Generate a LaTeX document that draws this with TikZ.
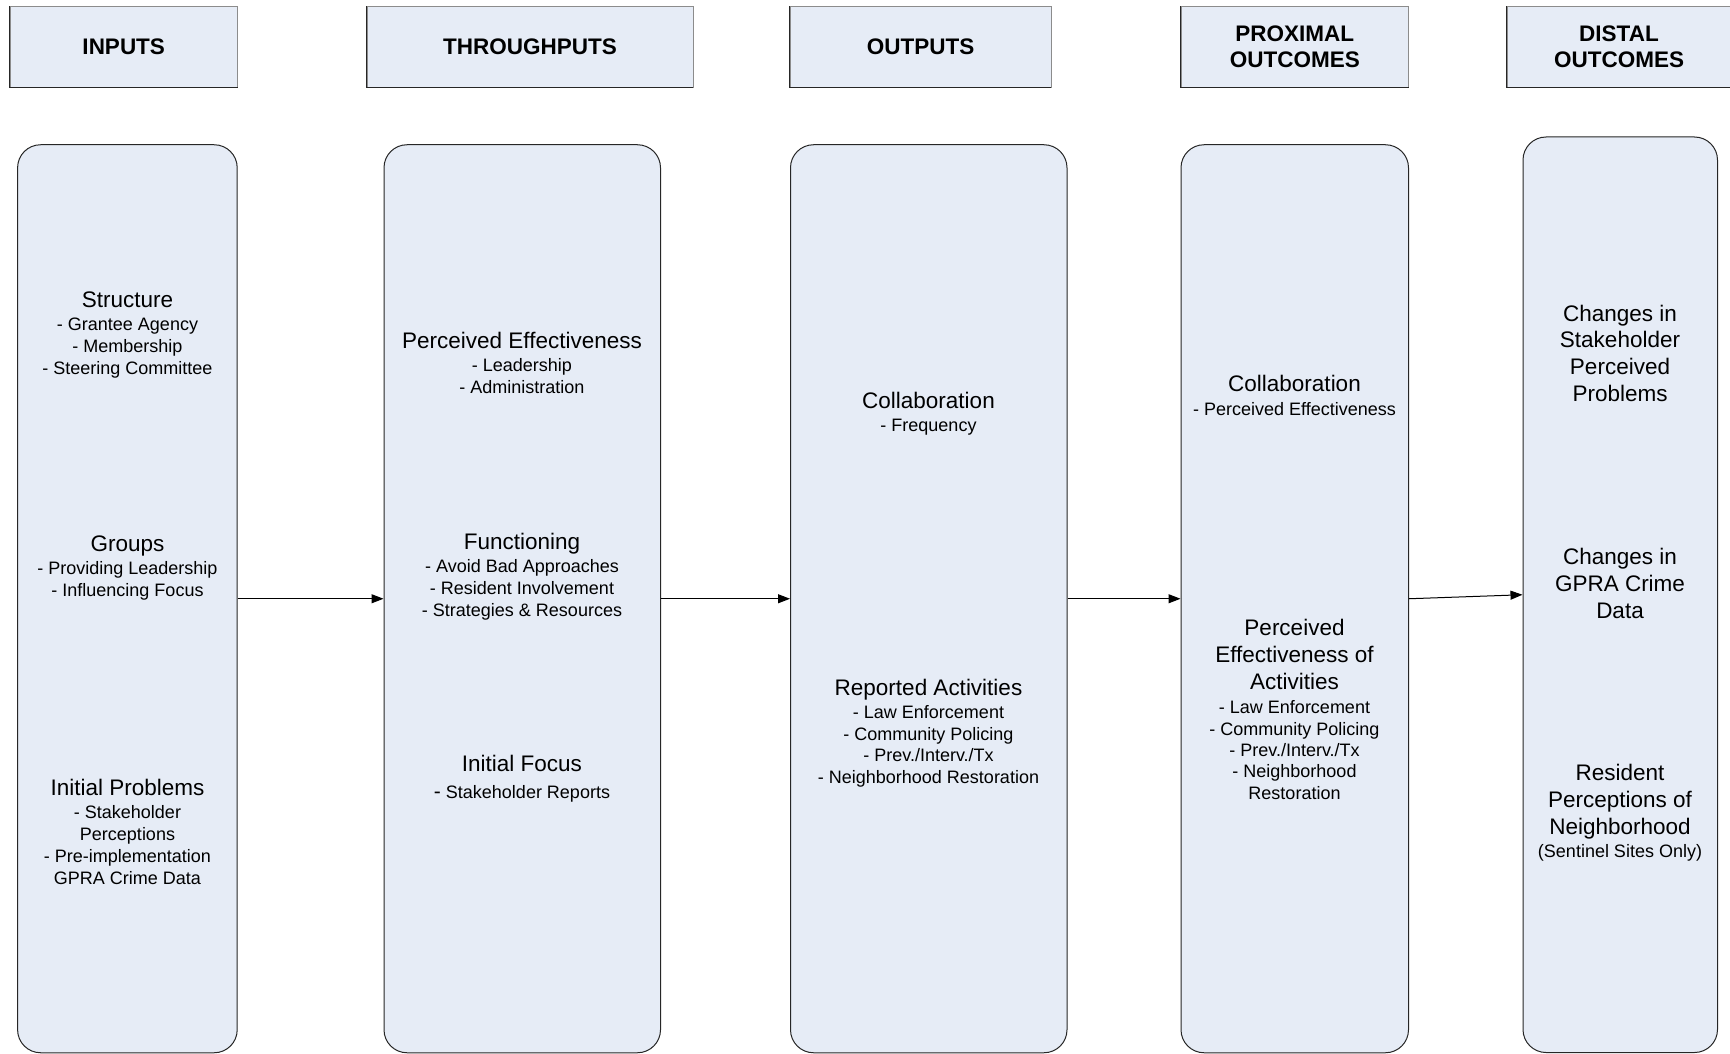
\documentclass[tikz,border=0pt]{standalone}
\usepackage{fontspec}
\setmainfont{Liberation Sans}
\usetikzlibrary{arrows.meta}
\definecolor{boxfill}{HTML}{E6ECF6}
\newcommand{\ttl}[1]{{\fontsize{22.5}{22}\selectfont\rule{0pt}{18pt}#1}}
\newcommand{\bigline}[1]{{\fontsize{22.5}{21.4}\selectfont #1}}
\begin{document}
\begin{tikzpicture}[x=1pt,y=-1pt,
  hdr/.style={draw=black!45, line width=0.9pt, fill=boxfill, minimum height=80.6pt, inner sep=0pt, align=center, font=\bfseries\fontsize{22.5}{26.5}\selectfont},
  hdredge/.style={draw=black!85, line width=1.3pt},
  colbox/.style={draw=black!85, line width=1pt, fill=boxfill, rounded corners=23pt, inner sep=0pt},
  txt/.style={inner sep=0pt, anchor=north, align=center, font=\fontsize{18}{22}\selectfont},
  txtb/.style={inner sep=0pt, anchor=north, align=center, font=\fontsize{18}{21.7}\selectfont},
  txtc/.style={inner sep=0pt, anchor=north, align=center, font=\fontsize{18}{21.4}\selectfont},
  bigtxt/.style={inner sep=0pt, anchor=north, align=center, font=\fontsize{22.5}{26.8}\selectfont},
  flow/.style={draw=black, line width=1pt, -{Triangle[length=12pt,width=9pt]}}
]
\useasboundingbox (0,0) rectangle (1730,1054);

% header boxes
\node[hdr, minimum width=227.5pt] (h1) at (123.75,46.9) {INPUTS};
\node[hdr, minimum width=326pt]   (h2) at (530,46.9) {THROUGHPUTS};
\node[hdr, minimum width=261pt]   (h3) at (920.5,46.9) {OUTPUTS};
\node[hdr, minimum width=227.5pt] (h4) at (1294.75,46.9) {PROXIMAL\\OUTCOMES};
\node[hdr, minimum width=224pt]   (h5) at (1619,46.9) {DISTAL\\OUTCOMES};
\foreach \h in {h1,h2,h3,h4,h5}{
  \draw[hdredge] (\h.north west) -- (\h.south west) -- (\h.south east);
}

% column boxes
\node[colbox, minimum width=219.6pt, minimum height=908pt] (c1) at (127.4,598.75) {};
\node[colbox, minimum width=276.5pt, minimum height=908pt] (c2) at (522.25,598.75) {};
\node[colbox, minimum width=276.5pt, minimum height=908pt] (c3) at (928.75,598.75) {};
\node[colbox, minimum width=227.5pt, minimum height=908pt] (c4) at (1294.75,598.75) {};
\node[colbox, minimum width=194.5pt, minimum height=915.5pt] (c5) at (1620.25,594.75) {};

% column 1
\node[txt] (t1a) at (127.5,289.5) {\ttl{Structure}\\[1.1pt]- Grantee Agency\\- Membership\\- Steering Committee};
\node[txt] (t1b) at (127.5,533.3) {\ttl{Groups}\\[1.1pt]- Providing Leadership\\- Influencing Focus};
\node[txt] (t1c) at (127.5,777.2) {\ttl{Initial Problems}\\[1.1pt]- Stakeholder\\Perceptions\\- Pre-implementation\\GPRA Crime Data};

% column 2
\node[txt] (t2a) at (522,330.4) {\ttl{Perceived Effectiveness}\\[1.3pt]- Leadership\\- Administration};
\node[txt] (t2b) at (522,531.2) {\ttl{Functioning}\\[1.3pt]- Avoid Bad Approaches\\- Resident Involvement\\- Strategies \& Resources};
\node[txt] (t2c) at (522,753) {\ttl{Initial Focus}\\[5pt]{\fontsize{21}{22}\selectfont -} Stakeholder Reports};

% column 3
\node[txtb] (t3a) at (928.5,390) {\ttl{Collaboration}\\[1.6pt]- Frequency};
\node[txtb] (t3b) at (928.5,676.9) {\ttl{Reported Activities}\\[1.6pt]- Law Enforcement\\- Community Policing\\- Prev./Interv./Tx\\- Neighborhood Restoration};

% column 4
\node[txtc] (t4a) at (1294.5,373.5) {\ttl{Collaboration}\\[2pt]- Perceived Effectiveness};
\node[txtc] (t4b) at (1294.5,617.3) {\ttl{Perceived}\\[5.6pt]\bigline{Effectiveness of}\\[5.4pt]\bigline{Activities}\\[3pt]- Law Enforcement\\- Community Policing\\- Prev./Interv./Tx\\- Neighborhood\\Restoration};

% column 5
\node[bigtxt] (t5a) at (1620,302.8) {\rule{0pt}{18pt}Changes in\\Stakeholder\\Perceived\\Problems};
\node[bigtxt] (t5b) at (1620,546.7) {\rule{0pt}{18pt}Changes in\\GPRA Crime\\Data};
\node[bigtxt] (t5c) at (1620,762.5) {\rule{0pt}{18pt}Resident\\Perceptions of\\Neighborhood\\[-4pt]{\fontsize{18}{26.8}\selectfont (Sentinel Sites Only)}};

% connectors
\draw[flow] (c1.east) -- (c2.west);
\draw[flow] (c2.east) -- (c3.west);
\draw[flow] (c3.east) -- (c4.west);
\draw[flow] (c4.east) -- (c5.west);
\end{tikzpicture}
\end{document}
